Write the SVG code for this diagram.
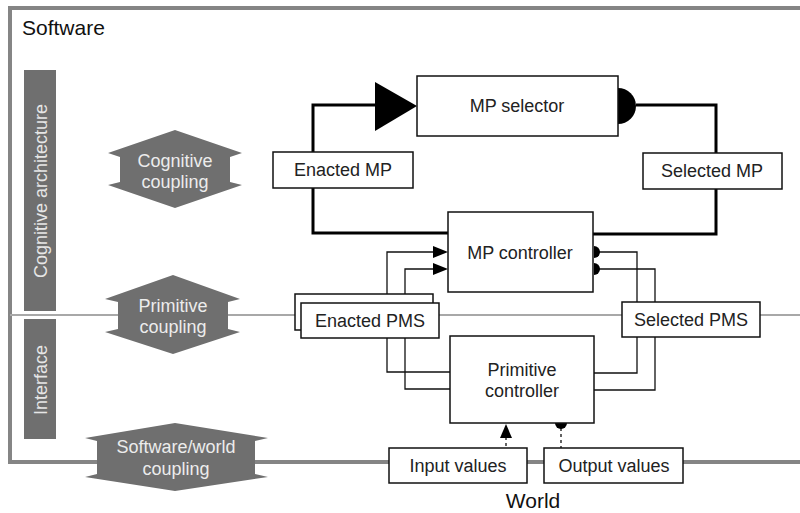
<svg xmlns="http://www.w3.org/2000/svg" width="800" height="513" viewBox="0 0 800 513">
<style>
text{font-family:"Liberation Sans",Arial,sans-serif;}
.box{fill:#fff;stroke:#111;stroke-width:1.5;}
.lbl{font-size:18px;fill:#222;text-anchor:middle;}
.bar{fill:#6f6f6f;}
.bart{font-size:18px;fill:#e6e6e6;text-anchor:middle;}
.hex{fill:#6f6f6f;}
.hext{font-size:18px;fill:#ececec;text-anchor:middle;}
.thick{fill:none;stroke:#000;stroke-width:3;}
.thin{fill:none;stroke:#111;stroke-width:1.3;}
.dash{fill:none;stroke:#111;stroke-width:1.3;stroke-dasharray:3 3;}
</style>
<rect width="800" height="513" fill="#fff"/>
<g id="frame">
<path d="M800,8 H10 V462 H800" fill="none" stroke="#858585" stroke-width="4"/>
<line x1="10" y1="315" x2="800" y2="315" stroke="#a8a8a8" stroke-width="2"/>
<text x="22" y="35" style="font-size:21px;fill:#111">Software</text>
<text x="533" y="508" style="font-size:21px;fill:#111;text-anchor:middle">World</text>
</g>
<g id="bar-cognitive">
<rect class="bar" x="24" y="70" width="32" height="241"/>
<text class="bart" transform="translate(47,191) rotate(-90)">Cognitive architecture</text>
</g>
<g id="bar-interface">
<rect class="bar" x="24" y="319" width="32" height="120"/>
<text class="bart" transform="translate(47,380) rotate(-90)">Interface</text>
</g>
<g id="hex-cognitive">
<polygon class="hex" points="175,130 242,153 230,157 230,182 242,185 175,208 108,185 120,182 120,157 108,153"/>
<text class="hext" x="175" y="167">Cognitive</text>
<text class="hext" x="175" y="188">coupling</text>
</g>
<g id="hex-primitive">
<polygon class="hex" points="173,275 240,299 228,302 228,329 240,332 173,354 105,332 118,329 118,302 105,299"/>
<text class="hext" x="173" y="312">Primitive</text>
<text class="hext" x="173" y="333">coupling</text>
</g>
<g id="hex-world">
<polygon class="hex" points="175,423 268,438 255,441 255,474 268,477 175,491 85,477 97,474 97,441 85,438"/>
<text class="hext" x="176" y="453">Software/world</text>
<text class="hext" x="176" y="475">coupling</text>
</g>
<g id="connectors">
<path class="thick" d="M380,105 H313 V233 H448"/>
<polygon points="375,82 417,106 375,131" fill="#000"/>
<path class="thick" d="M636,105 H716 V234 H593"/>
<path d="M618,88 A18,18 0 0 1 618,124 Z" fill="#000"/>
<path class="thin" d="M436,252 H387 V372 H450"/>
<path class="thin" d="M436,269 H405 V389 H450"/>
<polygon points="433,246 448,252 433,258" fill="#000"/>
<polygon points="433,263 448,269 433,275" fill="#000"/>
<path class="thin" d="M598,252 H637 V373 H594"/>
<path class="thin" d="M598,269 H655 V390 H594"/>
<path d="M594,246 A6,6 0 0 1 594,258 Z" fill="#000"/>
<path d="M594,263 A6,6 0 0 1 594,275 Z" fill="#000"/>
<path class="dash" d="M506,437 V448"/>
<polygon points="500,438 506,424 512,438" fill="#000"/>
<path class="dash" d="M561,428 V448"/>
<path d="M555,423 A6,6 0 0 0 567,423 Z" fill="#000"/>
</g>
<g id="mp-selector">
<rect class="box" x="417" y="76" width="201" height="60"/>
<text class="lbl" x="517" y="112">MP selector</text>
</g>
<g id="enacted-mp">
<rect class="box" x="273" y="152" width="140" height="36"/>
<text class="lbl" x="343" y="176">Enacted MP</text>
</g>
<g id="selected-mp">
<rect class="box" x="643" y="153" width="139" height="36"/>
<text class="lbl" x="712" y="177">Selected MP</text>
</g>
<g id="mp-controller">
<rect class="box" x="448" y="212" width="145" height="80"/>
<text class="lbl" x="520" y="259">MP controller</text>
</g>
<g id="enacted-pms">
<rect class="box" x="295" y="294" width="138" height="36"/>
<rect class="box" x="301" y="303" width="138" height="35"/>
<text class="lbl" x="370" y="327">Enacted PMS</text>
</g>
<g id="selected-pms">
<rect class="box" x="622" y="302" width="138" height="35"/>
<text class="lbl" x="691" y="326">Selected PMS</text>
</g>
<g id="primitive-controller">
<rect class="box" x="450" y="336" width="144" height="87"/>
<text class="lbl" x="522" y="376">Primitive</text>
<text class="lbl" x="522" y="397">controller</text>
</g>
<g id="input-values">
<rect class="box" x="389" y="448" width="138" height="35"/>
<text class="lbl" x="458" y="472">Input  values</text>
</g>
<g id="output-values">
<rect class="box" x="544" y="448" width="139" height="35"/>
<text class="lbl" x="614" y="472">Output  values</text>
</g>
</svg>
